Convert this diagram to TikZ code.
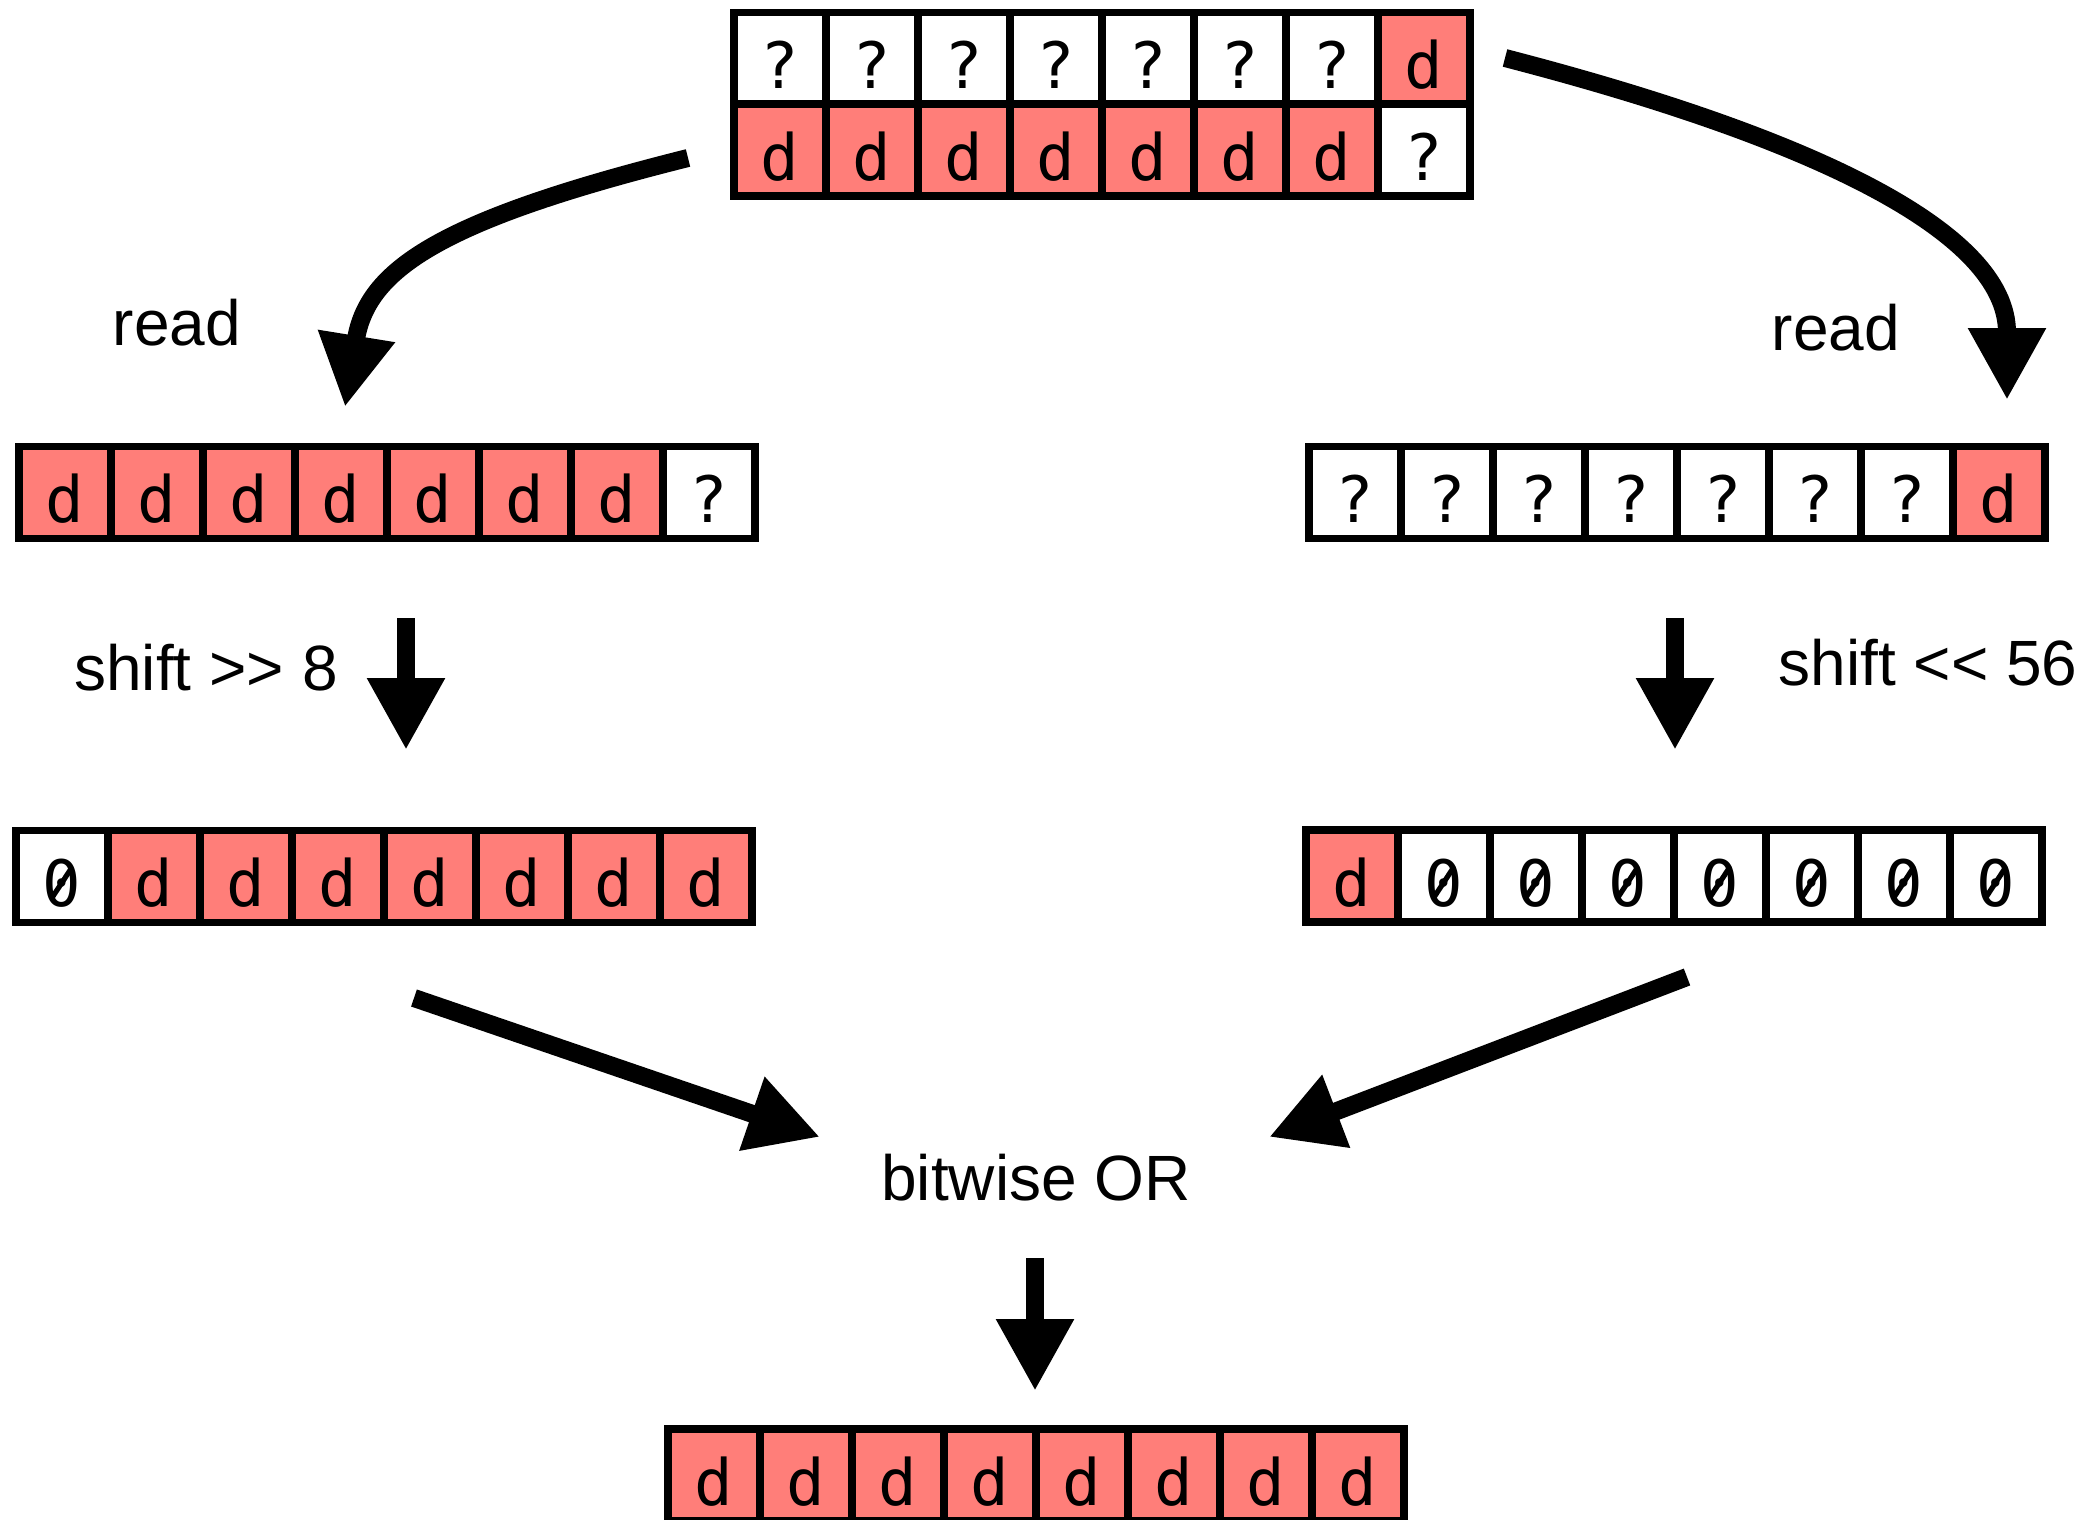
\documentclass[tikz,border=0pt]{standalone}
\usepackage{fontspec}
\usetikzlibrary{arrows.meta}
\newfontfamily\lblfont{Liberation Sans}
\newfontfamily\cellfont{DejaVu Sans Mono}
\definecolor{salmon}{RGB}{255,126,121}

\tikzset{
  byte/.style={draw=black, line width=3.75pt, rectangle,
    minimum width=46pt, minimum height=46pt, inner sep=0pt,
    text height=30pt, text depth=0pt,
    font=\cellfont\fontsize{32}{32}\selectfont},
  % zero cell: the digit gets a slash through it
  zero/.style={path picture={
    \draw[line width=2.6pt, line cap=round]
      ([shift={(-4.6pt,-10pt)}]path picture bounding box.center) --
      ([shift={(4.6pt,4pt)}]path picture bounding box.center);}},
  lbl/.style={anchor=base, inner sep=0pt,
    font=\lblfont\fontsize{32}{38}\selectfont},
  flow/.style={line width=9pt, -{Triangle[length=36pt,width=36.5pt]}},
}

% one row of eight byte cells: name, x of first cell, y of row, fill/text list
\newcommand\byterow[4]{%
  \foreach \f/\t [count=\i] in {#4}{
    \if0\t
      \node[byte, zero, fill=\f] (#1-\i) at ({#2+92*(\i-1)},#3) {\t};
    \else
      \node[byte, fill=\f] (#1-\i) at ({#2+92*(\i-1)},#3) {\t};
    \fi
  }
}

\begin{document}
\begin{tikzpicture}[x=0.5pt, y=-0.5pt]
  \fill[white] (0,0) rectangle (2099,1520);
  \useasboundingbox (0,0) rectangle (2099,1520);

  % unaligned source word spanning two 8-byte words
  \byterow{tophi}{780}{58.5}{white/?,white/?,white/?,white/?,white/?,white/?,white/?,salmon/d}
  \byterow{toplo}{780}{150}{salmon/d,salmon/d,salmon/d,salmon/d,salmon/d,salmon/d,salmon/d,white/?}

  % left branch
  \byterow{lread}{65}{492.5}{salmon/d,salmon/d,salmon/d,salmon/d,salmon/d,salmon/d,salmon/d,white/?}
  \byterow{lshift}{62}{876.5}{white/0,salmon/d,salmon/d,salmon/d,salmon/d,salmon/d,salmon/d,salmon/d}

  % right branch
  \byterow{rread}{1355}{492.5}{white/?,white/?,white/?,white/?,white/?,white/?,white/?,salmon/d}
  \byterow{rshift}{1352}{876}{salmon/d,white/0,white/0,white/0,white/0,white/0,white/0,white/0}

  % result
  \byterow{result}{714}{1475}{salmon/d,salmon/d,salmon/d,salmon/d,salmon/d,salmon/d,salmon/d,salmon/d}

  % labels
  \node[lbl] (readL) at (177,345) {read};
  \node[lbl] (readR) at (1836,350) {read};
  \node[lbl] (shiftL) at (206,690) {shift >> 8};
  \node[lbl] (shiftR) at (1928,685) {shift << 56};
  \node[lbl] (orlbl) at (1036,1200) {bitwise OR};

  % arrow end points
  \coordinate (rdLs) at (688,158);
  \coordinate (rdLe) at (345,407);
  \coordinate (rdRs) at (1505,58);
  \coordinate (rdRe) at (2007,400);
  \coordinate (shLs) at (406,618);
  \coordinate (shLe) at (406,750);
  \coordinate (shRs) at (1675,618);
  \coordinate (shRe) at (1675,750);
  \coordinate (orLs) at (414,998);
  \coordinate (orLe) at (820,1137);
  \coordinate (orRs) at (1687,977);
  \coordinate (orRe) at (1269,1137);
  \coordinate (resS) at (1035,1258);
  \coordinate (resE) at (1035,1391);

  % arrows
  \draw[flow] (rdLs) .. controls (436,221) and (367,271) .. (rdLe);
  \draw[flow] (rdRs) .. controls (1806,136) and (2007,230) .. (rdRe);
  \draw[flow] (shLs) -- (shLe);
  \draw[flow] (shRs) -- (shRe);
  \draw[flow] (orLs) -- (orLe);
  \draw[flow] (orRs) -- (orRe);
  \draw[flow] (resS) -- (resE);
\end{tikzpicture}
\end{document}
